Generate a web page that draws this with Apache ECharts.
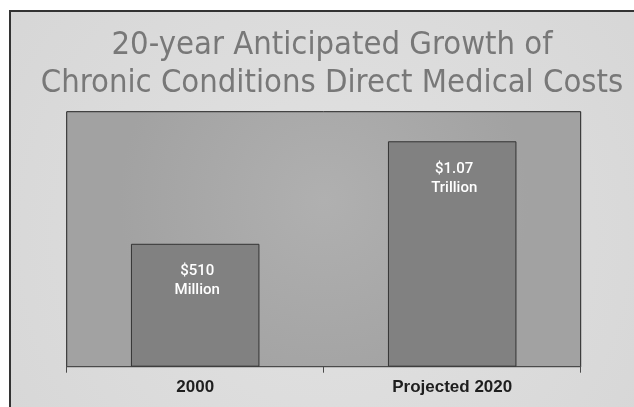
<!DOCTYPE html>
<html>
<head>
<meta charset="utf-8">
<script src="https://cdn.jsdelivr.net/npm/echarts@6/dist/echarts.min.js"></script>
<style>
html,body{margin:0;padding:0;background:#fff;}
#chart{width:634px;height:407px;}
</style>
</head>
<body>
<div id="chart"></div>
<script>
const titleText = "20-year Anticipated Growth of\nChronic Conditions Direct Medical Costs";
const categories = ["2000", "Projected 2020"];
const barHeights = [48.2, 88.4];
const barLabels = ["$510\nMillion", "$1.07\nTrillion"];

const chart = echarts.init(document.getElementById('chart'), null, {renderer: 'canvas'});
chart.setOption({
  backgroundColor: '#ffffff',
  animation: false,
  graphic: [{
    type: 'rect',
    z: -10,
    silent: true,
    shape: {x: 10, y: 11, width: 700, height: 500},
    style: {
      fill: {type: 'radial', x: 0.45, y: 0.45, r: 0.8,
        colorStops: [{offset: 0, color: '#e2e2e2'}, {offset: 1, color: '#d6d6d6'}]},
      stroke: '#333333', lineWidth: 2
    }
  }],
  title: {
    text: titleText,
    left: 327,
    textAlign: 'center',
    top: 22,
    textStyle: {
      fontFamily: '"Liberation Sans Narrow", "DejaVu Sans Condensed", Roboto, sans-serif',
      fontSize: 32.5,
      fontWeight: 'normal',
      color: '#787878',
      lineHeight: 38
    }
  },
  grid: {
    left: 66.7, right: 53.3, top: 111.7, bottom: 40.3,
    show: true,
    backgroundColor: {type: 'radial', x: 0.5, y: 0.35, r: 0.8,
      colorStops: [{offset: 0, color: '#b0b0b0'}, {offset: 1, color: '#a2a2a2'}]},
    borderColor: '#222222', borderWidth: 1
  },
  xAxis: {
    type: 'category',
    data: categories,
    axisLine: {lineStyle: {color: '#4a4a4a', width: 1}},
    axisTick: {show: true, length: 6, lineStyle: {color: '#4a4a4a'}},
    axisLabel: {
      margin: 12,
      color: '#1e1e1e',
      fontFamily: '"Liberation Sans", Arial, sans-serif',
      fontSize: 17,
      fontWeight: 'bold'
    }
  },
  yAxis: {
    type: 'value', min: 0, max: 100, show: false,
    splitLine: {show: false}
  },
  series: [{
    type: 'bar',
    data: barHeights,
    barWidth: '50%',
    itemStyle: {color: '#818181', borderColor: '#333333', borderWidth: 1},
    label: {
      show: true,
      position: 'insideTop',
      distance: 18,
      offset: [2, 0],
      formatter: p => barLabels[p.dataIndex],
      color: '#ffffff',
      fontFamily: 'Roboto, "Liberation Sans", sans-serif',
      fontSize: 15,
      fontWeight: 500,
      lineHeight: 19,
      align: 'center'
    }
  }]
});
</script>
</body>
</html>
